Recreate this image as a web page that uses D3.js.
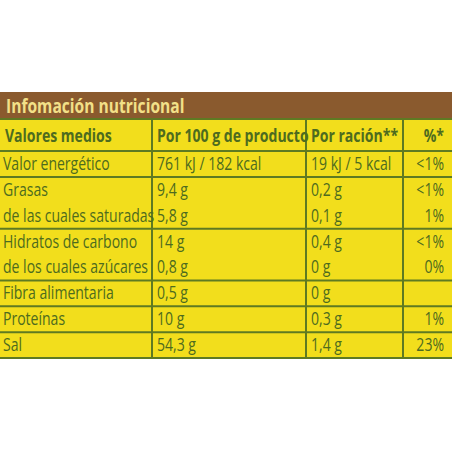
<!DOCTYPE html>
<html><head><meta charset="utf-8">
<script src="https://cdn.jsdelivr.net/npm/d3@7"></script>
<style>body{margin:0;background:#fff}</style>
</head><body><div id="label"></div>
<script>
// nutrition table data
var title = "Infomación nutricional";
var headers = ["Valores medios", "Por 100 g de producto", "Por ración**", "%*"];
var nutrients = ["Valor energético", "Grasas", "de las cuales saturadas", "Hidratos de carbono",
  "de los cuales azúcares", "Fibra alimentaria", "Proteínas", "Sal"];
var per100 = ["761 kJ / 182 kcal", "9,4 g", "5,8 g", "14 g", "0,8 g", "0,5 g", "10 g", "54,3 g"];
var perServing = ["19 kJ / 5 kcal", "0,2 g", "0,1 g", "0,4 g", "0 g", "0 g", "0,3 g", "1,4 g"];
var pct = ["<1%", "<1%", "1%", "<1%", "0%", "", "1%", "23%"];
// which lines start a new bordered group
var groupStart = [true, true, false, true, false, true, true, true];

var W = 452, H = 452;
var font = "'Open Sans','DejaVu Sans',sans-serif";
var ink = "#4d6b1f";
var squeeze = 0.78; // fake a condensed face

var svg = d3.select("#label").append("svg").attr("width", W).attr("height", H);

var colEdges = [0, 152, 306, 403, 452];
var x = d3.scaleOrdinal().domain([0, 1, 2, 3]).range(colEdges.slice(0, 4));

// line index -> y of top edge (0 = header row)
var y = d3.scaleLinear().domain([1, 9]).range([151, 358]);
var headerTop = 119;

function put(sel, px, py) {
  return sel.attr("transform", "translate(" + px + "," + py + ") scale(" + squeeze + ",1)");
}

// brown title band
svg.append("rect").attr("x", 0).attr("y", 92).attr("width", W).attr("height", headerTop - 92)
  .attr("fill", "#8a5a2e");
put(svg.append("text"), 6, 113).text(title)
  .attr("font-family", font).attr("font-weight", "bold").attr("font-size", 20)
  .attr("fill", "#f2e088");

// yellow table
svg.append("rect").attr("x", 0).attr("y", headerTop).attr("width", W).attr("height", y(9) - headerTop)
  .attr("fill", "#f2de1c");

// horizontal lines
var hLines = [headerTop, y(1)];
groupStart.forEach(function(g, i) { if (g && i > 0) hLines.push(y(i + 1)); });
hLines.push(y(9));
svg.selectAll(".h").data(hLines).enter().append("line")
  .attr("x1", 0).attr("x2", W).attr("y1", d => d).attr("y2", d => d)
  .attr("stroke", "#5e7a22").attr("stroke-width", 2);

// vertical lines
svg.selectAll(".v").data(colEdges.slice(1, 4)).enter().append("line")
  .attr("x1", d => d).attr("x2", d => d).attr("y1", headerTop).attr("y2", y(9))
  .attr("stroke", "#5e7a22").attr("stroke-width", 2);

// header row
headers.forEach(function(h, i) {
  put(svg.append("text"), i === 3 ? colEdges[4] - 8 : x(i) + 5, 142)
    .attr("text-anchor", i === 3 ? "end" : "start")
    .attr("font-family", font).attr("font-weight", "bold").attr("font-size", 18)
    .attr("fill", ink).text(h);
});

// body rows
var cols = [nutrients, per100, perServing, pct];
cols.forEach(function(arr, c) {
  arr.forEach(function(d, i) {
    put(svg.append("text"), c === 3 ? colEdges[4] - 8 : x(c) + (c === 0 ? 3 : 5), y(i + 2) - 7)
      .attr("text-anchor", c === 3 ? "end" : "start")
      .attr("font-family", font).attr("font-size", 18)
      .attr("fill", ink).text(d);
  });
});
</script>
</body></html>
